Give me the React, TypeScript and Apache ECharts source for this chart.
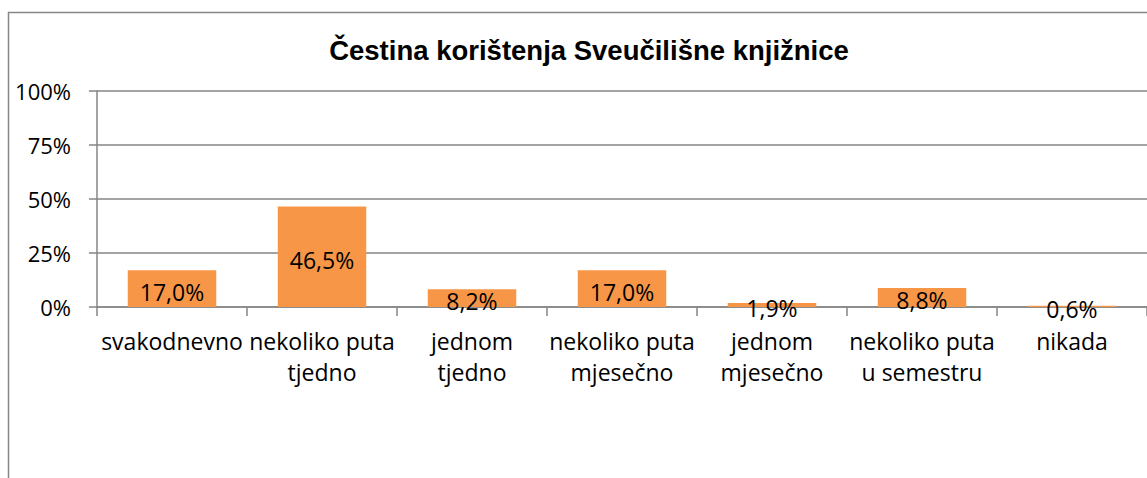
import React, { useEffect, useRef } from "react";
import * as echarts from "echarts";

const titleText = "Čestina korištenja Sveučilišne knjižnice";
const categories = [
  "svakodnevno",
  "nekoliko puta\ntjedno",
  "jednom\ntjedno",
  "nekoliko puta\nmjesečno",
  "jednom\nmjesečno",
  "nekoliko puta\nu semestru",
  "nikada",
];
const values = [17.0, 46.5, 8.2, 17.0, 1.9, 8.8, 0.6];
const yMin = 0;
const yMax = 100;
const yInterval = 25;

export default function App() {
  const ref = useRef<HTMLDivElement>(null);
  useEffect(() => {
    if (!ref.current) return;
    const chart = echarts.init(ref.current, undefined, { renderer: "svg" });
    const gray = "#868686";
    const font = "'Open Sans', 'Noto Sans', sans-serif";
    chart.setOption({
      animation: false,
      backgroundColor: "#ffffff",
      title: {
        text: titleText,
        left: 584,
        textAlign: "center",
        top: 31,
        textStyle: {
          fontFamily: "'Liberation Sans', Arial, sans-serif",
          fontWeight: "bold",
          fontSize: 27.5,
          color: "#000000",
        },
      },
      graphic: [
        {
          type: "rect",
          shape: { x: 8.5, y: 12.5, width: 1200, height: 500 },
          style: { fill: "none", stroke: gray, lineWidth: 1.5 },
          silent: true,
        },
      ],
      grid: { left: 97, top: 91, height: 216, right: -4 },
      xAxis: {
        type: "category",
        data: categories,
        axisLine: { lineStyle: { color: gray, width: 1.5 } },
        axisTick: { show: true, length: 9, lineStyle: { color: gray, width: 1.5 } },
        axisLabel: {
          interval: 0,
          margin: 18,
          fontFamily: font,
          fontSize: 23,
          lineHeight: 31,
          color: "#000000",
        },
      },
      yAxis: {
        type: "value",
        min: yMin,
        max: yMax,
        interval: yInterval,
        axisLine: { show: true, lineStyle: { color: gray, width: 1.5 } },
        axisTick: { show: true, length: 8, lineStyle: { color: gray, width: 1.5 } },
        splitLine: { lineStyle: { color: gray, width: 1.5 } },
        axisLabel: {
          formatter: "{value}%",
          margin: 26,
          fontFamily: font,
          fontSize: 22,
          color: "#000000",
        },
      },
      series: [
        {
          type: "bar",
          data: values,
          barWidth: "59%",
          itemStyle: { color: "#F79646" },
          label: {
            show: true,
            position: "inside",
            offset: [0, 3],
            formatter: (p: any) => p.value.toFixed(1).replace(".", ",") + "%",
            fontFamily: font,
            fontSize: 23,
            color: "#000000",
          },
        },
      ],
    });
    return () => chart.dispose();
  }, []);
  return (
    <div
      ref={ref}
      style={{ position: "fixed", left: 0, top: 0, width: 1147, height: 478 }}
    />
  );
}
